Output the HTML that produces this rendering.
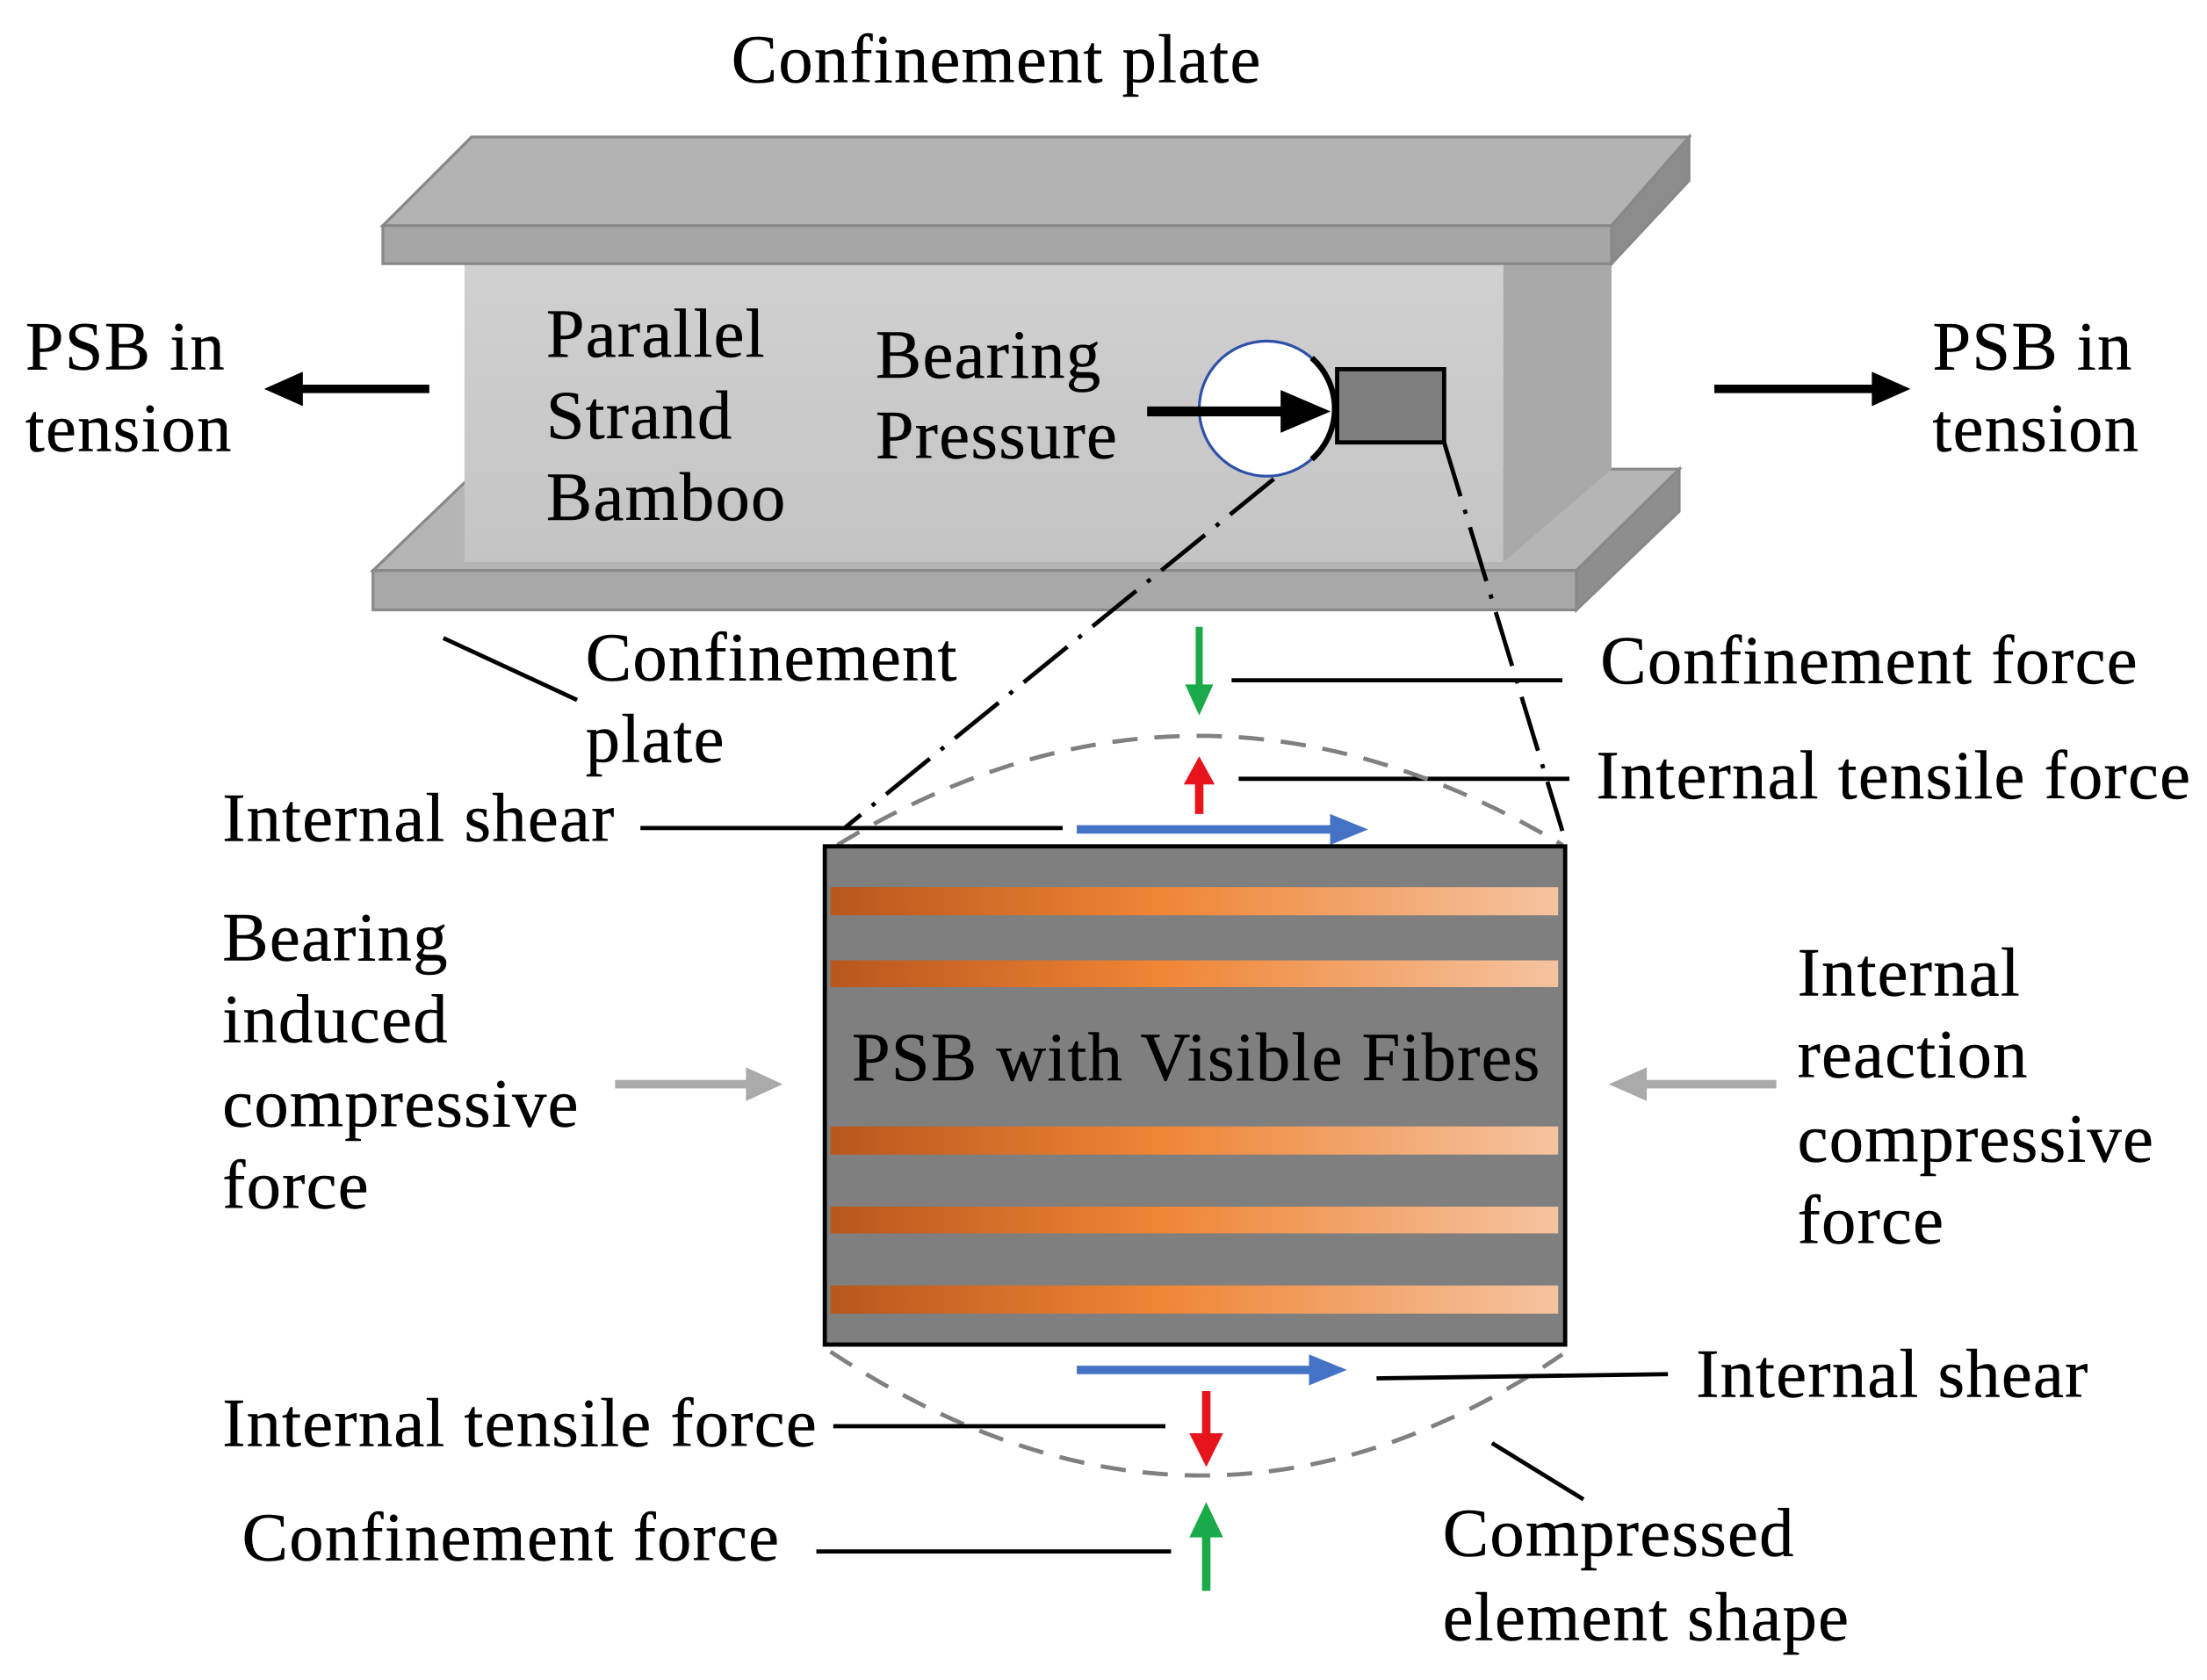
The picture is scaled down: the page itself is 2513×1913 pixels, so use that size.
<!DOCTYPE html>
<html><head><meta charset="utf-8"><style>html,body{margin:0;padding:0;background:#fff}svg{display:block}</style></head>
<body>
<svg width="2513" height="1913" viewBox="0 0 1568 1193" xmlns="http://www.w3.org/2000/svg" font-family="'Liberation Serif', serif" font-size="49" letter-spacing="0.8" fill="#000" stroke="#000" stroke-width="0.3">
<defs>
<linearGradient id="fib" x1="0" x2="1" y1="0" y2="0">
<stop offset="0" stop-color="#b8561c"/><stop offset="0.45" stop-color="#ef8535"/><stop offset="1" stop-color="#f5c39f"/>
</linearGradient>
<linearGradient id="web" x1="0" x2="0" y1="0" y2="1">
<stop offset="0" stop-color="#d0d0d0"/><stop offset="1" stop-color="#c4c4c4"/>
</linearGradient>
</defs>
<g stroke="none">
<rect width="1568" height="1193" fill="#fff"/>
</g>
<text x="708" y="58" text-anchor="middle">Confinement plate</text>

<g>
<!-- bottom plate -->
<polygon points="340,333 1193,333 1120,405 265,405" fill="#b5b5b5" stroke="#888" stroke-width="2"/>
<rect x="265" y="405" width="855" height="28" fill="#a8a8a8" stroke="#888" stroke-width="2"/>
<polygon points="1120,405 1193,333 1193,363 1120,433" fill="#8e8e8e" stroke="#888" stroke-width="2"/>
<!-- web -->
<rect x="330" y="187" width="738" height="212" fill="url(#web)" stroke="none"/>
<polygon points="1068,187 1145,187 1145,333 1068,399" fill="#a9a9a9" stroke="none"/>
<!-- top plate -->
<polygon points="335,97 1200,97 1145,160 272,160" fill="#b3b3b3" stroke="#888" stroke-width="2"/>
<rect x="272" y="160" width="873" height="27" fill="#a6a6a6" stroke="#888" stroke-width="2"/>
<polygon points="1145,160 1200,97 1200,128 1145,187" fill="#8c8c8c" stroke="#888" stroke-width="2"/>
</g>

<text x="388" y="253">Parallel</text>
<text x="388" y="311">Strand</text>
<text x="388" y="369">Bamboo</text>
<text x="622" y="268">Bearing</text>
<text x="622" y="325">Pressure</text>

<circle cx="900" cy="290" r="48" fill="#fff" stroke="#2f4fa8" stroke-width="2"/>
<path d="M932,254 A48,48 0 0 1 932,326" fill="none" stroke="#000" stroke-width="4"/>
<rect x="950" y="262" width="76" height="52" fill="#7f7f7f" stroke="#000" stroke-width="3"/>
<line x1="815" y1="292" x2="915" y2="292" stroke="#000" stroke-width="7"/>
<polygon points="910,277 945,292 910,307" fill="#000"/>

<line x1="905" y1="340" x2="600" y2="588" stroke="#000" stroke-width="3" stroke-dasharray="40 10 3 10"/>
<line x1="1026" y1="314" x2="1110" y2="590" stroke="#000" stroke-width="3" stroke-dasharray="40 10 3 10"/>

<text x="18" y="262">PSB in</text>
<text x="18" y="320">tension</text>
<line x1="305" y1="276" x2="210" y2="276" stroke="#000" stroke-width="6"/>
<polygon points="215,264 188,276 215,288" fill="#000"/>
<text x="1373" y="262">PSB in</text>
<text x="1373" y="320">tension</text>
<line x1="1218" y1="276" x2="1335" y2="276" stroke="#000" stroke-width="6"/>
<polygon points="1330,264 1357,276 1330,288" fill="#000"/>

<line x1="315" y1="453" x2="410" y2="497" stroke="#000" stroke-width="3"/>
<text x="416" y="483">Confinement</text>
<text x="416" y="541">plate</text>

<line x1="852" y1="445" x2="852" y2="490" stroke="#1aaa4a" stroke-width="5"/>
<polygon points="842,486 852,508 862,486" fill="#1aaa4a" stroke="none"/>
<line x1="875" y1="483" x2="1110" y2="483" stroke="#000" stroke-width="3"/>
<text x="1137" y="485">Confinement force</text>
<line x1="852" y1="578" x2="852" y2="553" stroke="#e8141c" stroke-width="6"/>
<polygon points="841,557 852,537 863,557" fill="#e8141c" stroke="none"/>
<line x1="880" y1="553" x2="1115" y2="553" stroke="#000" stroke-width="3"/>
<text x="1134" y="567">Internal tensile force</text>

<path d="M595,600 Q850,445 1110,600" fill="none" stroke="#808080" stroke-width="3" stroke-dasharray="18 12"/>
<path d="M590,960 Q855,1135 1110,962" fill="none" stroke="#808080" stroke-width="3" stroke-dasharray="18 12"/>

<text x="158" y="597">Internal shear</text>
<line x1="455" y1="588" x2="755" y2="588" stroke="#000" stroke-width="3"/>
<line x1="765" y1="589" x2="950" y2="589" stroke="#4472c4" stroke-width="6"/>
<polygon points="945,578 972,589 945,600" fill="#4472c4" stroke="none"/>

<rect x="586" y="601" width="526" height="354" fill="#7f7f7f" stroke="#000" stroke-width="3"/>
<g stroke="none">
<rect x="590" y="630" width="517" height="20" fill="url(#fib)"/>
<rect x="590" y="682" width="517" height="19" fill="url(#fib)"/>
<rect x="590" y="800" width="517" height="20" fill="url(#fib)"/>
<rect x="590" y="857" width="517" height="19" fill="url(#fib)"/>
<rect x="590" y="913" width="517" height="20" fill="url(#fib)"/>
</g>
<text x="850" y="767" text-anchor="middle">PSB with Visible Fibres</text>

<text x="158" y="682">Bearing</text>
<text x="158" y="740">induced</text>
<text x="158" y="800">compressive</text>
<text x="158" y="858">force</text>
<line x1="437" y1="770" x2="535" y2="770" stroke="#aaa" stroke-width="6"/>
<polygon points="530,758 556,770 530,782" fill="#aaa" stroke="none"/>

<text x="1277" y="707">Internal</text>
<text x="1277" y="765">reaction</text>
<text x="1277" y="825">compressive</text>
<text x="1277" y="883">force</text>
<line x1="1262" y1="770" x2="1165" y2="770" stroke="#aaa" stroke-width="6"/>
<polygon points="1170,758 1143,770 1170,782" fill="#aaa" stroke="none"/>

<line x1="765" y1="973" x2="935" y2="973" stroke="#4472c4" stroke-width="6"/>
<polygon points="930,962 957,973 930,984" fill="#4472c4" stroke="none"/>
<line x1="978" y1="979" x2="1185" y2="976" stroke="#000" stroke-width="3"/>
<text x="1205" y="992">Internal shear</text>

<line x1="857" y1="988" x2="857" y2="1022" stroke="#e8141c" stroke-width="6"/>
<polygon points="845,1018 857,1042 869,1018" fill="#e8141c" stroke="none"/>
<line x1="592" y1="1013" x2="828" y2="1013" stroke="#000" stroke-width="3"/>
<text x="158" y="1027">Internal tensile force</text>

<line x1="857" y1="1130" x2="857" y2="1088" stroke="#1aaa4a" stroke-width="6"/>
<polygon points="845,1092 857,1067 869,1092" fill="#1aaa4a" stroke="none"/>
<line x1="580" y1="1102" x2="832" y2="1102" stroke="#000" stroke-width="3"/>
<text x="172" y="1108">Confinement force</text>

<line x1="1060" y1="1025" x2="1125" y2="1065" stroke="#000" stroke-width="3"/>
<text x="1025" y="1105">Compressed</text>
<text x="1025" y="1165">element shape</text>
</svg>
</body></html>
